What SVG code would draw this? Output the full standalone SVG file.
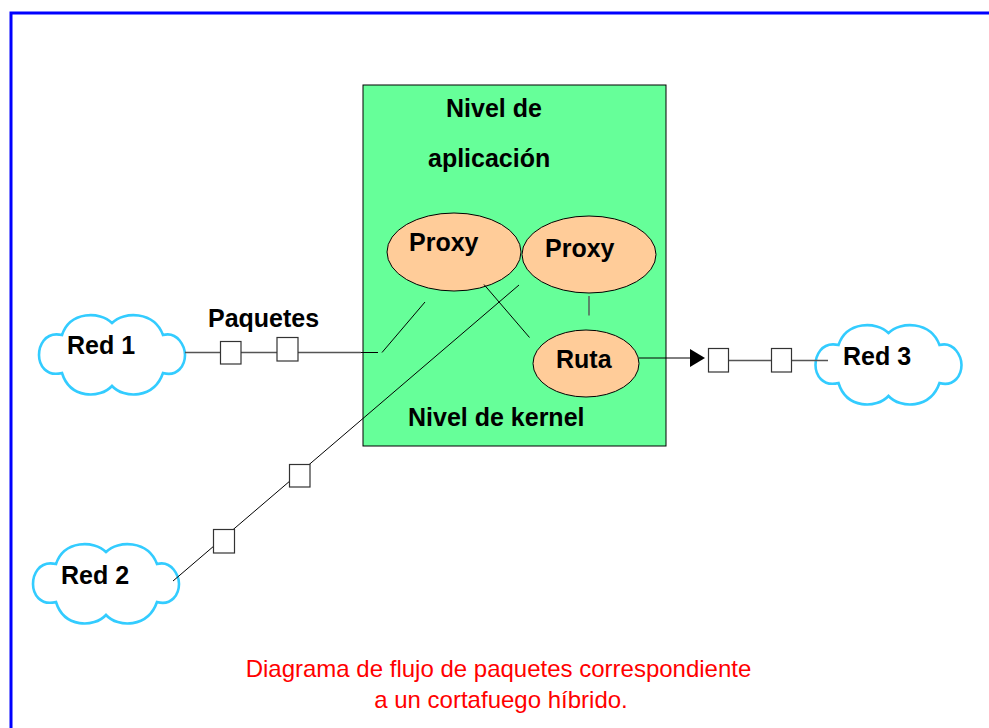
<svg xmlns="http://www.w3.org/2000/svg" width="989" height="728" viewBox="0 0 989 728">
  <style>
    text { font-family: "Liberation Sans", Arial, sans-serif; fill: #000; }
    .b { font-weight: bold; font-size: 25px; }
    .cap { font-size: 24px; fill: #FF0000; text-anchor: middle; }
    .cloud { fill: #fff; stroke: #33CCFF; stroke-width: 2.6; }
    .oval { fill: #FFCC99; stroke: #000; stroke-width: 1; }
    .box { fill: #fff; stroke: #333; stroke-width: 1.2; }
    .l { stroke: #000; stroke-width: 1; fill: none; }
    .g { stroke: #555; stroke-width: 1.4; fill: none; }
  </style>
  <defs>
    <path id="cl" d="M0,-32 C-12,-44 -42,-44 -50,-20 C-68,-24 -73,-8 -73,0 C-73,10 -66,22 -50,18 C-42,44 -12,44 0,31 C12,44 42,44 51,18 C66,22 73,10 73,0 C73,-8 66,-24 51,-20 C42,-44 12,-44 0,-32 Z"/>
  </defs>
  <rect width="989" height="728" fill="#fff"/>
  <path id="frame" d="M11,728 V13 H989" fill="none" stroke="#0000FF" stroke-width="3"/>
  <g id="firewall">
    <rect x="363" y="85" width="303" height="361" fill="#66FF99" stroke="#000" stroke-width="1"/>
    <text class="b" x="446" y="117">Nivel de</text>
    <text class="b" x="428" y="167">aplicación</text>
    <text class="b" x="408" y="426">Nivel de kernel</text>
  </g>
  <g id="red1"><use href="#cl" class="cloud" x="112" y="355"/><text class="b" x="67" y="354">Red 1</text></g>
  <g id="red2"><use href="#cl" class="cloud" x="106" y="584"/><text class="b" x="61" y="584">Red 2</text></g>
  <g id="red3"><use href="#cl" class="cloud" x="888.5" y="365"/><text class="b" x="843" y="365">Red 3</text></g>
  <g id="proxy1"><ellipse class="oval" cx="454" cy="252" rx="67" ry="39"/><text class="b" x="409" y="251">Proxy</text></g>
  <g id="proxy2"><ellipse class="oval" cx="589" cy="254.5" rx="67" ry="38.5"/><text class="b" x="545" y="257">Proxy</text></g>
  <g id="ruta"><ellipse class="oval" cx="586" cy="363.5" rx="53" ry="33.5"/><text class="b" x="556" y="368">Ruta</text></g>
  <g id="connectors">
    <path class="g" d="M185,352.5 H361"/>
    <path class="l" d="M361,352.5 H378"/>
    <path class="l" d="M382,352.5 L425,302"/>
    <path class="l" d="M484,284.5 L529.5,337.5"/>
    <path class="l" d="M519,285 L173,581"/>
    <path class="g" d="M589,296 V315.5"/>
    <path class="l" d="M639,358 H692"/>
    <path d="M690,349 L705,358 L690,367 Z" fill="#000"/>
    <path class="g" d="M708,360.5 H828"/>
  </g>
  <g id="packets">
    <rect class="box" x="220.5" y="341.5" width="20.5" height="22.5"/>
    <rect class="box" x="277" y="337.5" width="21" height="23.5"/>
    <rect class="box" x="289.5" y="464.5" width="20.5" height="22.5"/>
    <rect class="box" x="213.5" y="529.5" width="21" height="23.5"/>
    <rect class="box" x="708.5" y="348.5" width="20" height="23.5"/>
    <rect class="box" x="771.5" y="348.5" width="20" height="23.5"/>
  </g>
  <text id="paquetes" class="b" x="208" y="327">Paquetes</text>
  <g id="caption">
    <text class="cap" x="498.5" y="677">Diagrama de flujo de paquetes correspondiente</text>
    <text class="cap" x="501" y="708">a un cortafuego híbrido.</text>
  </g>
</svg>
